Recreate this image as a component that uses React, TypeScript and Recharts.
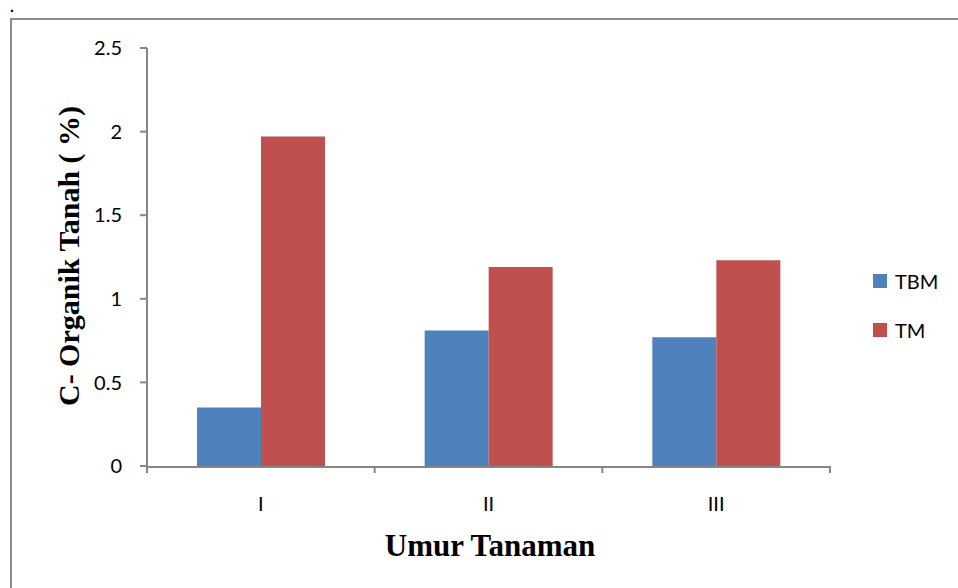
import { BarChart, Bar, XAxis, YAxis, Legend, Label } from 'recharts';

const categories = ['I', 'II', 'III'];
const tbm = [0.35, 0.81, 0.77];
const tm = [1.97, 1.19, 1.23];
const yTicks = [0, 0.5, 1, 1.5, 2, 2.5];
const boundaryTicks = [0, 1, 2, 3];

const data = categories.map((c, i) => ({ name: c, TBM: tbm[i], TM: tm[i] }));

const AXIS = '#868686';
const tickFont = { fontSize: 20, fill: '#000', fontFamily: 'Lato, "Open Sans", sans-serif' };
const titleFont = '"Liberation Serif", "DejaVu Serif", serif';

const LegendBox = ({ payload }: any) => (
  <div style={{ fontFamily: 'Lato, "Open Sans", sans-serif', fontSize: 20, color: '#000' }}>
    {(payload || []).map((p: any) => (
      <div key={p.value} style={{ display: 'flex', alignItems: 'center', height: 49 }}>
        <span style={{ width: 14, height: 14, background: p.color, display: 'inline-block', marginRight: 8 }} />
        {p.value}
      </div>
    ))}
  </div>
);

export default function App() {
  return (
    <div style={{ position: 'absolute', left: 0, top: 0, width: 958, height: 588, overflow: 'hidden', background: '#fff' }}>
      <div style={{ position: 'absolute', left: 10, top: 0, fontSize: 15, lineHeight: '15px', fontWeight: 'bold', fontFamily: titleFont }}>.</div>
      <div style={{ position: 'absolute', left: 10, top: 18, width: 1000, height: 600, borderLeft: '2px solid #8c8c8c', borderTop: '2px solid #8c8c8c' }} />
      <div style={{ position: 'absolute', left: 0, top: 0 }}>
        <BarChart
          width={958}
          height={588}
          data={data}
          margin={{ top: 48, right: 128, left: 0, bottom: 91 }}
          barGap={0}
          barSize={64}
        >
          <XAxis
            xAxisId="cat"
            dataKey="name"
            height={30}
            axisLine={{ stroke: AXIS, strokeWidth: 2 }}
            tickLine={false}
            tickMargin={24}
            tick={tickFont}
          >
            <Label
              content={() => (
                <text x={490} y={545} textAnchor="middle" dominantBaseline="central"
                  style={{ fontFamily: titleFont, fontWeight: 'bold', fontSize: 31, fill: '#000' }}>
                  Umur Tanaman
                </text>
              )}
            />
          </XAxis>
          <XAxis
            xAxisId="bounds"
            type="number"
            dataKey="TM"
            domain={[0, 3]}
            allowDataOverflow
            ticks={boundaryTicks}
            interval={0}
            height={1}
            axisLine={false}
            tickFormatter={() => ''}
            tickLine={{ stroke: AXIS, strokeWidth: 2 }}
            tickSize={7}
          />
          <YAxis
            width={147}
            domain={[0, 2.5]}
            ticks={yTicks}
            axisLine={{ stroke: AXIS, strokeWidth: 2 }}
            tickLine={{ stroke: AXIS, strokeWidth: 2 }}
            tickSize={7}
            tickMargin={18}
            tick={tickFont}
          >
            <Label
              content={() => (
                <text x={68} y={256} textAnchor="middle" dominantBaseline="central"
                  transform="rotate(-90, 68, 256)"
                  style={{ fontFamily: titleFont, fontWeight: 'bold', fontSize: 30, fill: '#000' }}>
                  C- Organik Tanah ( %)
                </text>
              )}
            />
          </YAxis>
          <Legend
            layout="horizontal"
            align="center"
            verticalAlign="middle"
            content={<LegendBox />}
            wrapperStyle={{ left: 873, top: 256, width: 80 }}
          />
          <Bar xAxisId="cat" dataKey="TBM" fill="#4F81BD" isAnimationActive={false} />
          <Bar xAxisId="cat" dataKey="TM" fill="#C0504D" isAnimationActive={false} />
        </BarChart>
      </div>
    </div>
  );
}
